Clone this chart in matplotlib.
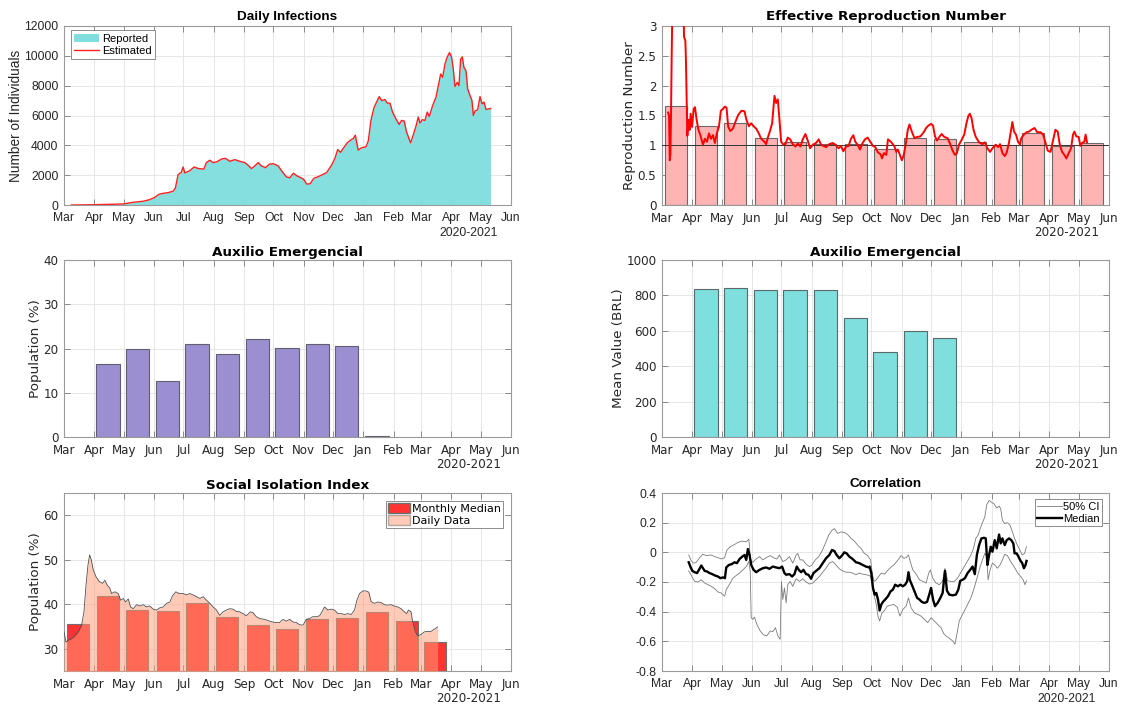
import numpy as np
import pandas as pd
import matplotlib
matplotlib.use('Agg')
import matplotlib.pyplot as plt
from matplotlib.patches import Patch
from matplotlib.lines import Line2D
from matplotlib.ticker import FuncFormatter

plt.rcParams['axes.unicode_minus'] = False

# ---------------- DATA ----------------
START = '2020-03-01'
month_ticks = pd.date_range('2020-03-01', '2021-06-01', freq='MS')
month_labels = [d.strftime('%b') for d in month_ticks]
year_label = '2020-2021'

# Daily infections (days since 2020-03-01, individuals)
infect_days = [7.5, 30.7, 61, 70.6, 80.8, 87.7, 92.8, 97.2, 101.3, 106.4, 111.5, 113.9, 116.6, 120, 121.8,
               123.5, 128.6, 133, 137.1, 142.9, 145.6, 149, 152.5, 156.5, 161, 165, 169.5, 174.6, 179.7,
               184.9, 188.3, 191.7, 195.1, 198.5, 201.9, 206, 209.8, 213.8, 219, 223.4, 227.5, 230.9,
               234.5, 238, 244.8, 248.2, 251.5, 255.6, 260, 265, 268.5, 273.6, 277, 279.8, 282.8, 285.5,
               289.6, 293, 295.8, 297.8, 300.8, 304.3, 308.7, 311.1, 313.8, 316.9, 320.3, 322.3, 324.7,
               328.1, 330.5, 333.2, 335.9, 339.3, 342.7, 345.1, 347.8, 350.2, 354.3, 357, 359.8, 362.2,
               363.9, 366.3, 369, 371.4, 373.5, 376.9, 380.3, 382.7, 385.1, 387.1, 389.5, 391.9, 394.2,
               396.3, 398, 399.7, 402.1, 403.8, 405.5, 407.2, 408.9, 411, 412.7, 415.1, 417.1, 418.5,
               420.2, 422.9, 425.3, 427.4, 429.4, 431.5, 436.2]
infect_vals = [0, 20, 70, 180, 250, 360, 510, 720, 780, 830, 920, 1140, 2030, 2200, 2550,
               2150, 2300, 2550, 2450, 2400, 2840, 3000, 2840, 2900, 3080, 3130, 2930, 3040, 2930,
               2840, 2660, 2440, 2620, 2840, 2620, 2500, 2730, 2770, 2620, 2210, 1880, 1830,
               2130, 1960, 1740, 1400, 1420, 1800, 1900, 2060, 2170, 2680, 3130, 3720, 3530, 3800,
               4170, 4350, 4460, 4680, 3680, 3840, 3900, 4300, 5670, 6520, 7000, 7270, 7000,
               7070, 6830, 6830, 6230, 5780, 5400, 5670, 5630, 4900, 4170, 4680, 5280, 5900,
               5500, 5720, 5670, 6230, 5940, 6670, 7230, 8000, 8780, 8560, 9450, 9930, 10220,
               9900, 9100, 7940, 8230, 8000, 9780, 9930, 9220, 9000, 7780, 7340, 7000, 6000,
               6300, 6380, 7270, 6780, 6900, 6400, 6470]

# Effective reproduction number
r_days = [6.2, 7.2, 7.9, 8.6, 9.2, 9.9, 10.6, 11.3, 15, 20,
          22.2, 22.5, 23.9, 24.5, 25.9, 27.3, 28.3, 29.3, 30.7, 32.4,
          33.7, 35.4, 37.1, 39.2, 41.9, 43.9, 46, 48, 50, 52.1,
          54.1, 56.2, 58.2, 60.2, 62.3, 64.3, 66, 67.7, 69.8, 72.5,
          75.2, 77.9, 81.3, 84.4, 86.1, 88.8, 91.2, 93.6, 96.3, 99,
          101.4, 104.1, 106.5, 108.2, 110.6, 112.6, 115, 116.7, 118.4, 120.1,
          121.8, 124.2, 126.2, 128.6, 131, 133.7, 136.4, 138.8, 141.5, 143.9,
          146.6, 149, 151.4, 154.1, 157.5, 160.2, 162.6, 165, 167.7, 171.1,
          174.5, 177.2, 180.6, 183, 185.4, 188.1, 190.8, 193.2, 195.6, 197.6,
          200, 202.4, 205.1, 207.5, 210.2,
          213.3, 215.7, 218, 220.8, 223.5, 224.9, 226.9, 229.3, 231, 232.7,
          235, 237.7, 239.4, 241.1, 243.2, 245.2, 247.2, 249.6, 251.3, 253,
          255.4, 258.1, 260.8, 264.2, 267.6, 270, 272.3, 275.1, 277.1, 279.1,
          281.2, 283.5, 285.9, 288.6, 292, 294.7, 297.1, 299.5, 301.5, 303.9,
          306.3, 309, 311, 313.1, 314.7, 316.4, 318.5, 320.8, 324.2, 327.6,
          330, 332.7, 335.4, 337.8, 341.2, 343.6, 345.6, 348, 350.4, 352.4,
          354.8, 356.5, 358.2, 359.9, 361.9, 364, 366, 367.3, 370, 372.7,
          375.1, 378.5, 380.9, 383.6, 387, 389.7, 392.1, 394.4, 397.2, 399.9,
          402.2, 404.6, 406.6, 409, 411.4, 413.4, 415.8, 418.2, 420.2, 421.6,
          423.6, 426, 427.7, 429.4, 431.8, 433.1, 434.5]
r_vals = [1.55, 1.5, 0.75, 0.85, 1.5, 2.5, 3.3, 4.0, 5.0, 4.0,
          3.1, 2.82, 2.75, 2.4, 1.16, 1.43, 1.26, 1.53, 1.31, 1.61,
          1.64, 1.43, 1.27, 1.17, 1.01, 1.11, 1.06, 1.20, 1.11, 1.17,
          1.04, 1.21, 1.31, 1.58, 1.61, 1.65, 1.63, 1.31, 1.24, 1.28,
          1.40, 1.51, 1.58, 1.57, 1.44, 1.32, 1.37, 1.32, 1.28, 1.20,
          1.11, 1.07, 1.02, 1.13, 1.25, 1.37, 1.83, 1.71, 1.77, 1.43,
          1.06, 1.01, 1.02, 1.13, 1.10, 1.02, 0.98, 1.03, 0.98, 1.10,
          1.19, 1.08, 0.95, 1.01, 1.04, 1.10, 1.01, 0.99, 0.97, 1.02,
          1.04, 1.01, 0.95, 0.99, 0.90, 0.98, 0.99, 1.11, 1.17, 1.06,
          1.01, 0.93, 1.04, 1.10, 1.13,
          1.05, 0.99, 0.97, 0.88, 0.85, 0.78, 0.87, 0.84, 1.10, 1.08,
          1.04, 0.98, 0.89, 0.93, 0.84, 0.75, 0.84, 1.06, 1.26, 1.35,
          1.23, 1.12, 1.14, 1.15, 1.22, 1.29, 1.33, 1.36, 1.33, 1.15,
          1.08, 1.14, 1.19, 1.14, 1.12, 1.02, 0.91, 0.84, 0.87, 1.02,
          1.09, 1.18, 1.35, 1.49, 1.53, 1.46, 1.26, 1.14, 1.05, 1.02,
          1.05, 0.95, 0.89, 0.95, 1.01, 0.97, 1.02, 0.87, 0.82, 0.88,
          1.05, 1.22, 1.39, 1.23, 1.18, 1.06, 1.01, 1.12, 1.18, 1.22,
          1.23, 1.27, 1.29, 1.22, 1.22, 1.18, 1.04, 0.91, 0.89, 1.09,
          1.26, 1.23, 1.02, 0.89, 0.84, 0.78, 0.87, 0.95, 1.18, 1.23,
          1.15, 1.14, 0.99, 1.04, 1.06, 1.18, 1.05]
r_months = pd.date_range('2020-03-01', '2021-05-01', freq='MS')
r_monthly = [1.66, 1.33, 1.375, 1.12, 1.06, 1.02, 1.03, 0.94, 1.12, 1.10, 1.05, 1.00, 1.21, 0.99, 1.04]

# Auxilio Emergencial
aux_months = pd.date_range('2020-04-01', '2021-01-01', freq='MS')
aux_population = [16.4, 20.0, 12.75, 21.0, 18.8, 22.1, 20.2, 21.0, 20.5, 0.15]
aux_value_months = pd.date_range('2020-04-01', '2020-12-01', freq='MS')
aux_mean_value = [835, 843, 829, 829, 829, 672, 482, 598, 562]

# Social isolation index
iso_days = [0, 2, 4.4, 7.8, 11.2, 14.6, 18, 20.4, 22.5, 24.5, 26.2, 27.9, 29.9, 32.7, 36.1, 39.5, 41.8,
            44.2, 46.9, 48.6, 52, 55.5, 57.8, 60.6, 62.9, 65.7, 68, 70.8, 74.2, 77.6, 81, 84.4, 87.8,
            91.2, 94.6, 98, 101.4, 104.8, 108.2, 110.9, 114.3, 117.7, 121.8, 125.2, 128.6, 132, 135.5,
            138.9, 142.3, 145.7, 149.1, 152.5, 155.9, 159.2, 162.6, 166, 169.4, 172.8, 176.2, 179.6,
            183, 186.4, 188.8, 190.5, 193.2, 196.6, 200, 205.1, 210.2, 215.3, 220.4, 223.9, 227.3,
            230.7, 234.1, 237.5, 240.9, 244.3, 247.7, 251.1, 254.5, 257.9, 261.3, 264.7, 266.4, 269.8,
            273.2, 276.6, 280, 283.4, 286.8, 290.2, 293.6, 297, 299.4, 302.1, 305.5, 308.9, 311.6, 314,
            317.4, 320.8, 324.2, 327.6, 331, 334.4, 337.8, 341.2, 344.6, 348, 350.4, 352.1, 354.8,
            356.5, 359.2, 361.6, 365, 368.4, 371.8, 375.2, 378.6, 382]
iso_vals = [33.8, 31.5, 31.9, 32.3, 32.9, 33.8, 35.3, 38.3, 44.3, 48.8, 51.1, 50.0, 47.7, 46.2, 45.1, 44.7,
            45.4, 44.3, 43.6, 42.4, 42.8, 42.4, 40.9, 41.3, 40.5, 41.2, 39.4, 39.0, 39.9, 39.6, 39.9,
            39.4, 39.6, 38.9, 38.7, 39.2, 39.4, 40.2, 40.5, 41.9, 42.8, 42.4, 42.4, 42.1, 42.4, 42.1,
            41.7, 41.3, 41.7, 40.9, 40.2, 39.4, 38.7, 37.5, 38.3, 38.7, 39.0, 38.9, 38.4, 38.3, 37.9,
            37.4, 37.9, 38.3, 38.1, 37.2, 36.8, 36.6, 36.2, 35.9, 35.9, 36.6, 36.2, 36.6, 36.0, 35.9,
            35.4, 35.3, 36.6, 36.8, 37.2, 37.2, 37.4, 38.7, 39.4, 38.7, 38.9, 38.7, 37.9, 37.9, 37.7,
            37.9, 37.7, 38.7, 40.9, 42.4, 43.0, 43.0, 42.7, 40.6, 40.2, 40.5, 40.4, 39.9, 39.8, 39.9,
            39.6, 39.4, 39.0, 38.3, 37.9, 38.7, 38.3, 36.0, 33.8, 32.9, 33.2, 33.8, 33.9, 33.9, 34.4,
            34.9]
iso_months = pd.date_range('2020-03-01', '2021-03-01', freq='MS')
iso_monthly = [35.6, 41.9, 38.7, 38.4, 40.2, 37.2, 35.3, 34.4, 36.6, 37.0, 38.2, 36.2, 31.5]

# Correlation
med_days = [27.3, 29, 31, 33.4, 35.8, 37.8, 40.2, 41.9, 43.6, 46, 48.7, 51.4, 54.1, 57.2, 59.6, 62.3,
            64.3, 65.7, 68.4, 71.1, 74.2, 76.6, 79.3, 82, 84.4, 86.1, 87.8, 89.5, 91.2, 93.6, 96.3,
            99.7, 103.1, 106.5, 109.9, 113.3, 116.7, 120.1, 122.8, 125.2, 126.9, 130.3, 133, 135.4,
            137.8, 139.8, 142.2, 144.6, 147.3, 149.7, 152.4, 154.8, 157.5, 160.9, 164.3, 167.7, 171.1,
            173.8, 176.2, 178.6, 181.3, 184, 186.4, 188.8, 191.5, 194.9, 198.3, 201.7, 205.1, 208.5,
            211.9,
            212.3, 214, 215.7, 217.4, 219.1, 220.8, 222.5, 224.2, 225.9, 228.2, 231, 233.7, 236,
            238.4, 241.1, 243.8, 246.2, 248.6, 250.6, 252, 253.3, 255.4, 258.1, 260.8, 263.2, 265.6,
            268.3, 271, 273.4, 275.1, 277.1, 279.1, 281.8, 284.6, 286.9, 289.3, 291.3, 293.7, 297.1,
            300.5, 302.9, 304.9, 307.3, 309.7, 312.4, 315.1, 317.5, 319.8, 321.9, 324.2, 326.6, 329.3,
            331, 332.7, 334.4, 336.1, 337.8, 340.2, 342.2, 344.6, 346.3, 348, 350.4, 352.4, 354.8,
            357.1, 359.2, 360.5, 362.6, 365, 366.6, 368.3, 370, 371.7, 372.7]
med_vals = [-0.067, -0.096, -0.125, -0.134, -0.14, -0.118, -0.089, -0.107, -0.125, -0.129, -0.14, -0.147,
            -0.156, -0.163, -0.174, -0.169, -0.174, -0.102, -0.085, -0.08, -0.067, -0.073, -0.045,
            -0.029, -0.018, -0.051, 0.022, -0.018, -0.085, -0.118, -0.134, -0.118, -0.107, -0.102,
            -0.111, -0.096, -0.102, -0.107, -0.096, -0.14, -0.151, -0.147, -0.163, -0.147, -0.096,
            -0.118, -0.134, -0.118, -0.147, -0.151, -0.178, -0.14, -0.125, -0.107, -0.073, -0.04,
            -0.018, 0.016, 0.009, -0.018, -0.04, -0.022, 0.0, -0.007, -0.029, -0.045, -0.067, -0.073,
            -0.085, -0.096, -0.102,
            -0.096, -0.14, -0.24, -0.285, -0.274, -0.318, -0.392, -0.352, -0.334, -0.318, -0.296,
            -0.263, -0.252, -0.218, -0.229, -0.218, -0.229, -0.218, -0.196, -0.134, -0.185, -0.218,
            -0.263, -0.307, -0.318, -0.334, -0.341, -0.334, -0.281, -0.24, -0.318, -0.363, -0.341,
            -0.307, -0.274, -0.125, -0.258, -0.285, -0.29, -0.285, -0.252, -0.192, -0.185, -0.174,
            -0.14, -0.118, -0.096, -0.147, -0.018, 0.049, 0.094, 0.098, 0.094, -0.085, -0.018, 0.038,
            0.004, 0.082, 0.027, 0.12, 0.06, 0.094, 0.049, 0.082, 0.094, 0.082, 0.06, -0.007, -0.007,
            -0.036, -0.058, -0.073, -0.107, -0.085, -0.058]
ci_hi_days = [27.3, 30, 32.4, 35.1, 38.5, 41.9, 45.3, 50.4, 53.8, 57.2, 60.6, 64, 66.4, 69.8, 74.2,
              77.6, 82, 86.1, 88.8, 90.5, 92.9, 96.3, 99.7, 103.1, 106.5, 110.6, 114, 117.4, 120.1,
              123.5, 126.9, 130.3, 133.7, 137.1, 138.8, 141.2, 143.9, 147.3, 150.7, 153.4, 156.8,
              160.2, 163.6, 167, 170.4, 173.8, 176.2, 179.6, 183, 186.4, 189.8, 193.2, 196.6, 200,
              203.4, 206.8, 210.2,
              213.3, 214.7, 216.7, 219.1, 221.5, 224.2, 227.6, 230.3, 233.7, 237.1, 240.5, 244.5,
              247.2, 249.6, 252, 254, 256.4, 259.8, 263.2, 266.6, 270, 272.7, 274.4, 276.8, 280.1,
              283.5, 286.9, 289.3, 292, 295.4, 298.8, 302.2, 305.6, 309, 312.4, 315.8, 318.5, 320.8,
              323.2, 325.3, 327.6, 330, 332, 334.4, 336.8, 339.5, 342.2, 344.6, 346.3, 348, 350.4,
              353.1, 355.8, 358.2, 360.5, 363.2, 365.9, 368.3, 370.7, 372.7]
ci_hi_vals = [-0.018, -0.058, -0.073, -0.067, -0.036, -0.013, -0.022, -0.018, -0.029, -0.036, -0.045,
              -0.036, 0.016, 0.038, 0.053, 0.067, 0.076, 0.071, 0.089, -0.051, -0.067, -0.045, -0.029,
              -0.051, -0.036, -0.022, -0.036, -0.045, -0.018, -0.062, -0.051, -0.029, -0.073, -0.018,
              -0.007, -0.051, -0.051, -0.08, -0.096, -0.085, -0.051, -0.029, 0.009, 0.06, 0.116,
              0.149, 0.16, 0.127, 0.138, 0.134, 0.12, 0.094, 0.076, 0.049, 0.027, -0.007, -0.022,
              -0.051, -0.129, -0.196, -0.185, -0.163, -0.14, -0.147, -0.125, -0.102, -0.085, -0.058,
              -0.022, -0.04, -0.036, -0.018, -0.067, -0.118, -0.147, -0.185, -0.196, -0.207, -0.14,
              -0.118, -0.174, -0.207, -0.218, -0.196, -0.107, -0.192, -0.196, -0.196, -0.174, -0.134,
              -0.096, -0.058, -0.018, 0.027, 0.094, 0.116, 0.16, 0.2, 0.238, 0.321, 0.35, 0.338,
              0.327, 0.298, 0.312, 0.294, 0.216, 0.194, 0.2, 0.183, 0.138, 0.094, 0.049, 0.016,
              -0.018, -0.007, 0.038]
ci_lo_days = [27.3, 30, 33.4, 36.8, 40.2, 43.6, 47, 50.4, 53.8, 57.2, 60.6, 64, 65.7, 69.1, 72.5,
              75.9, 79.3, 82.7, 86.1, 88.8, 90.2, 91.2, 92.9, 94.6, 97, 100.4, 103.8, 107.2, 110.6,
              113.3, 116, 118.4, 120.8, 122.1, 123.5, 125.2, 126.9, 128.6, 131, 133.7, 137.1, 140.5,
              143.9, 147.3, 150.7, 154.1, 157.5, 160.9, 164.3, 167.7, 171.1, 174.5, 177.9, 181.3,
              184.7, 188.1, 191.5, 194.9, 198.3, 201.7, 205.1, 208.5, 211.9,
              213.3, 214.7, 216.7, 219.1, 220.8, 222.5, 224.9, 227.6, 230.3, 233.7, 237.1, 240.5,
              243.2, 246.2, 249.6, 252, 254.7, 258.1, 261.5, 264.9, 268.3, 271.7, 275.1, 278.5,
              281.8, 285.2, 288, 290.3, 293.7, 297.1, 299.5, 301.5, 303.9, 306.3, 309, 312.4, 315.8,
              319.2, 322.5, 325.3, 327.6, 330, 332, 333.4, 335.4, 337.8, 340.2, 342.9, 345.6, 348,
              350.4, 353.1, 356.5, 359.9, 363.2, 366.6, 369.3, 371, 372.7]
ci_lo_vals = [-0.125, -0.156, -0.196, -0.2, -0.185, -0.207, -0.218, -0.229, -0.245, -0.267, -0.274,
              -0.296, -0.252, -0.214, -0.174, -0.156, -0.14, -0.118, -0.096, -0.062, -0.129, -0.441,
              -0.452, -0.437, -0.486, -0.53, -0.557, -0.563, -0.53, -0.535, -0.508, -0.563, -0.586,
              -0.196, -0.318, -0.24, -0.341, -0.218, -0.196, -0.229, -0.178, -0.196, -0.178, -0.2,
              -0.214, -0.207, -0.185, -0.163, -0.134, -0.107, -0.073, -0.062, -0.085, -0.111,
              -0.125, -0.134, -0.134, -0.14, -0.151, -0.14, -0.147, -0.151, -0.156,
              -0.163, -0.218, -0.285, -0.352, -0.43, -0.463, -0.408, -0.392, -0.363, -0.356, -0.352,
              -0.37, -0.43, -0.385, -0.363, -0.307, -0.374, -0.408, -0.419, -0.43, -0.452, -0.474,
              -0.441, -0.463, -0.486, -0.508, -0.548, -0.563, -0.579, -0.597, -0.619, -0.552,
              -0.463, -0.43, -0.396, -0.352, -0.307, -0.24, -0.163, -0.096, -0.051, -0.007, -0.029,
              -0.185, -0.118, -0.073, -0.085, -0.107, -0.085, -0.051, -0.013, -0.022, -0.062,
              -0.096, -0.134, -0.163, -0.185, -0.218, -0.192]

for a, b in [(infect_days, infect_vals), (r_days, r_vals), (iso_days, iso_vals), (med_days, med_vals),
             (ci_hi_days, ci_hi_vals), (ci_lo_days, ci_lo_vals)]:
    assert len(a) == len(b), (len(a), len(b))


def to_dates(days):
    return pd.Timestamp(START) + pd.to_timedelta(np.asarray(days, float), unit='D')


def mid_month(months):
    return months + pd.Timedelta(days=14)


def gfmt_func(v, p):
    s = '%g' % round(v, 6)
    return '0' if float(s) == 0 else s


gfmt = FuncFormatter(gfmt_func)

# ---------------- STYLE ----------------
SANS = 'Liberation Sans'
DJ = 'DejaVu Sans'
TXT = '#262626'
CYAN = '#7FDEDE'


def style(ax, font, tick_fs=8.7):
    ax.set_xlim(month_ticks[0], month_ticks[-1])
    ax.set_xticks(month_ticks)
    ax.set_xticklabels(month_labels)
    ax.grid(True, color='#e3e3e3', lw=0.6)
    ax.set_axisbelow(True)
    ax.tick_params(direction='in', length=4, top=True, right=True, color='#7a7a7a', width=0.6,
                   labelsize=tick_fs, labelcolor=TXT)
    ax.tick_params(axis='x', pad=5)
    ax.tick_params(axis='y', pad=4)
    for lab in ax.get_xticklabels() + ax.get_yticklabels():
        lab.set_family(font)
    for s in ax.spines.values():
        s.set_color('#9a9a9a')
        s.set_linewidth(0.8)
    ax.text(0.905, -0.155, year_label, transform=ax.transAxes, ha='center', va='center',
            fontsize=tick_fs, color=TXT, family=font)


fig = plt.figure(figsize=(11.26, 7.05), dpi=100)
LX, RX, W = 64 / 1126, 662 / 1126, 447 / 1126
rows = [(1 - 205 / 705, 179 / 705), (1 - 437 / 705, 177 / 705), (1 - 671 / 705, 178 / 705)]

ax1 = fig.add_axes([LX, rows[0][0], W, rows[0][1]])
ax2 = fig.add_axes([RX, rows[0][0], W, rows[0][1]])
ax3 = fig.add_axes([LX, rows[1][0], W, rows[1][1]])
ax4 = fig.add_axes([RX, rows[1][0], W, rows[1][1]])
ax5 = fig.add_axes([LX, rows[2][0], W, rows[2][1]])
ax6 = fig.add_axes([RX, rows[2][0], W, rows[2][1]])

# ---- Panel 1: Daily infections ----
d1 = to_dates(infect_days)
ax1.fill_between(d1, infect_vals, 0, color=CYAN, lw=0, alpha=0.95)
ax1.plot(d1, infect_vals, color='#FF2020', lw=1.0)
ax1.set_ylim(0, 12000)
ax1.set_yticks(range(0, 12001, 2000))
ax1.yaxis.set_major_formatter(gfmt)
style(ax1, SANS)
ax1.set_title('Daily Infections', fontsize=9.7, fontweight='bold', family=SANS, color='black', pad=4)
ax1.set_ylabel('Number of Individuals', fontsize=9.8, family=SANS, color=TXT, labelpad=1)
leg1 = ax1.legend(handles=[Patch(facecolor=CYAN, edgecolor='none', label='Reported'),
                           Line2D([], [], color='#FF2020', lw=1.0, label='Estimated')],
                  loc='upper left', bbox_to_anchor=(0.016, 0.975), borderaxespad=0,
                  prop={'family': SANS, 'size': 8}, fancybox=False, framealpha=1,
                  edgecolor='#7a7a7a', handlelength=2.2, handletextpad=0.3, borderpad=0.3,
                  labelspacing=0.2)
leg1.get_frame().set_linewidth(0.6)

# ---- Panel 2: Effective reproduction number ----
ax2.bar(mid_month(r_months), r_monthly, width=22.4, color='#FFB3B3', edgecolor='#6a6a6a',
        linewidth=0.8, zorder=2)
ax2.axhline(1, color='#333333', lw=0.7, zorder=3)
ax2.plot(to_dates(r_days), r_vals, color='#FF0000', lw=1.4, zorder=4)
ax2.set_ylim(0, 3)
ax2.set_yticks(np.arange(0, 3.01, 0.5))
ax2.yaxis.set_major_formatter(gfmt)
style(ax2, DJ, 8.6)
ax2.set_title('Effective Reproduction Number', fontsize=9.7, fontweight='bold', family=DJ,
              color='black', pad=4)
ax2.set_ylabel('Reproduction Number', fontsize=9.7, family=DJ, color=TXT, labelpad=1)

# ---- Panel 3: Auxilio population ----
ax3.bar(mid_month(aux_months), aux_population, width=24, color='#9C8FD1', edgecolor='#5f5f6f',
        linewidth=0.8, zorder=2)
ax3.set_ylim(0, 40)
ax3.set_yticks(range(0, 41, 10))
style(ax3, DJ, 8.6)
ax3.set_title('Auxilio Emergencial', fontsize=9.7, fontweight='bold', family=DJ, color='black', pad=3)
ax3.set_ylabel('Population (%)', fontsize=9.7, family=DJ, color=TXT, labelpad=1)

# ---- Panel 4: Auxilio mean value ----
ax4.bar(mid_month(aux_value_months), aux_mean_value, width=24, color=CYAN, edgecolor='#5a6a6a',
        linewidth=0.8, zorder=2)
ax4.set_ylim(0, 1000)
ax4.set_yticks(range(0, 1001, 200))
style(ax4, DJ, 8.6)
ax4.set_title('Auxilio Emergencial', fontsize=9.7, fontweight='bold', family=DJ, color='black', pad=3)
ax4.set_ylabel('Mean Value (BRL)', fontsize=9.7, family=DJ, color=TXT, labelpad=1)

# ---- Panel 5: Social isolation ----
ax5.bar(mid_month(iso_months), iso_monthly, width=22.4, color='#FF3333', edgecolor='#707070',
        linewidth=0.8, zorder=2)
di = to_dates(iso_days)
ax5.fill_between(di, iso_vals, 0, color='#FF9B76', alpha=0.52, lw=0, zorder=3)
ax5.plot(di, iso_vals, color='#505050', lw=0.6, zorder=4)
ax5.set_ylim(25, 65)
ax5.set_yticks([30, 40, 50, 60])
style(ax5, DJ, 8.6)
ax5.set_title('Social Isolation Index', fontsize=9.7, fontweight='bold', family=DJ, color='black', pad=3)
ax5.set_ylabel('Population (%)', fontsize=9.7, family=DJ, color=TXT, labelpad=1)
leg5 = ax5.legend(handles=[Patch(facecolor='#FF3333', edgecolor='#707070', label='Monthly Median'),
                           Patch(facecolor='#FF9B76', alpha=0.52, edgecolor='#707070', label='Daily Data')],
                  loc='upper right', bbox_to_anchor=(0.983, 0.955), borderaxespad=0,
                  prop={'family': DJ, 'size': 8}, fancybox=False, framealpha=1,
                  edgecolor='#7a7a7a', handlelength=2.0, handleheight=1.0, handletextpad=0.2,
                  borderpad=0.2, labelspacing=0.1)
leg5.get_frame().set_linewidth(0.6)

# ---- Panel 6: Correlation ----
ax6.plot(to_dates(ci_hi_days), ci_hi_vals, color='#7a7a7a', lw=0.6)
ax6.plot(to_dates(ci_lo_days), ci_lo_vals, color='#7a7a7a', lw=0.6)
ax6.plot(to_dates(med_days), med_vals, color='black', lw=1.7)
ax6.set_ylim(-0.8, 0.4)
ax6.set_yticks(np.round(np.arange(-0.8, 0.41, 0.2), 1))
ax6.yaxis.set_major_formatter(gfmt)
style(ax6, SANS)
ax6.set_title('Correlation', fontsize=9.7, fontweight='bold', family=SANS, color='black', pad=4)
leg6 = ax6.legend(handles=[Line2D([], [], color='#7a7a7a', lw=0.6, label='50% CI'),
                           Line2D([], [], color='black', lw=1.7, label='Median')],
                  loc='upper right', bbox_to_anchor=(0.985, 0.965), borderaxespad=0,
                  prop={'family': SANS, 'size': 8}, fancybox=False, framealpha=1,
                  edgecolor='#7a7a7a', handlelength=2.2, handletextpad=0.1, borderpad=0.25,
                  labelspacing=0.15)
leg6.get_frame().set_linewidth(0.6)

fig.savefig('out.png', dpi=100)
